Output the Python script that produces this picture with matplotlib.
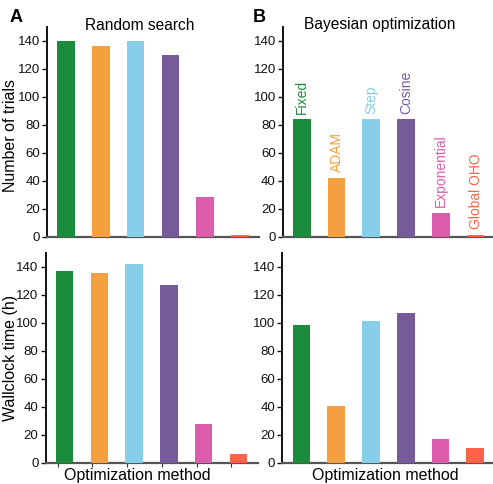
import matplotlib.pyplot as plt
import numpy as np

plt.rcParams["font.family"] = ["Liberation Sans", "DejaVu Sans"]

methods = ["Fixed", "ADAM", "Step", "Cosine", "Exponential", "Global OHO"]
colors = ["#1a8c3c", "#f5a040", "#87ceeb", "#765a9a", "#dd5dad", "#ff6347"]

# random search
rs_trials = [139.5, 136.5, 139.5, 129.5, 28.5, 1.5]
rs_hours = [137, 135.5, 142, 127, 27.5, 6]

# bayesian optimization
bo_trials = [84, 42, 84, 84, 17, 1.5]
bo_hours = [98.5, 40.5, 101, 107, 17, 10.5]

W, H = 493, 484
fig = plt.figure(figsize=(W / 100, H / 100), dpi=100)


def make_ax(x0, y_top, y_bot):
    return fig.add_axes([x0 / W, 1 - y_bot / H, 212 / W, (y_bot - y_top) / H])


ax_tl = make_ax(47, 26.7, 236.7)
ax_tr = make_ax(282.7, 26.7, 236.7)
ax_bl = make_ax(45.5, 252.7, 462.7)
ax_br = make_ax(282.3, 252.7, 462.7)

x = np.arange(len(methods))
for ax, vals in [(ax_tl, rs_trials), (ax_tr, bo_trials), (ax_bl, rs_hours), (ax_br, bo_hours)]:
    # bars sit over the x spine so the near-zero ones stay visible
    ax.bar(x, vals, width=0.51, color=colors, zorder=3)
    ax.set_xlim(-0.55, 5.55)
    ax.set_ylim(0, 150)
    ax.set_yticks(range(0, 141, 20))
    ax.set_xticks([])
    ax.spines["top"].set_visible(False)
    ax.spines["right"].set_visible(False)
    ax.spines["left"].set_linewidth(1.4)
    ax.spines["left"].set_color("#111111")
    ax.spines["bottom"].set_linewidth(1.6)
    ax.spines["bottom"].set_color("#555555")
    ax.tick_params(axis="y", direction="out", length=3.5, width=1.0, labelsize=9.5, pad=1.5, colors="#111111")

# lower-left panel keeps its small category ticks
ax_bl.set_xticks(x - 0.2)
ax_bl.set_xticklabels([])
ax_bl.tick_params(axis="x", direction="out", length=3, width=0.8, colors="#333333")

# method names above the bayesian bars
for i, (name, v) in enumerate(zip(methods, bo_trials)):
    ax_tr.annotate(name, (i, v), xytext=(0, 4), textcoords="offset points",
                   rotation=90, ha="center", va="bottom", fontsize=10, color=colors[i])

ax_tl.set_ylabel("Number of trials", fontsize=11.5)
ax_tl.yaxis.set_label_coords((18 - 47) / 212, 0.48)
ax_bl.set_ylabel("Wallclock time (h)", fontsize=11.5)
ax_bl.yaxis.set_label_coords((18 - 45.5) / 212, 0.5)

ax_bl.set_xlabel("Optimization method", fontsize=11.5)
ax_br.set_xlabel("Optimization method", fontsize=11.5)
ax_bl.xaxis.set_label_coords((137.5 - 45.5) / 212, -5 / 210)
ax_br.xaxis.set_label_coords((385 - 282.3) / 212, -5 / 210)

fig.text(140 / W, 1 - 25 / H, "Random search", ha="center", va="center", fontsize=11.2)
fig.text(380 / W, 1 - 25 / H, "Bayesian optimization", ha="center", va="center", fontsize=11.2)
fig.text(16.5 / W, 1 - 17 / H, "A", ha="center", va="center", fontsize=13, fontweight="bold")
fig.text(259.5 / W, 1 - 17 / H, "B", ha="center", va="center", fontsize=13, fontweight="bold")

fig.savefig("out.png", dpi=100)
